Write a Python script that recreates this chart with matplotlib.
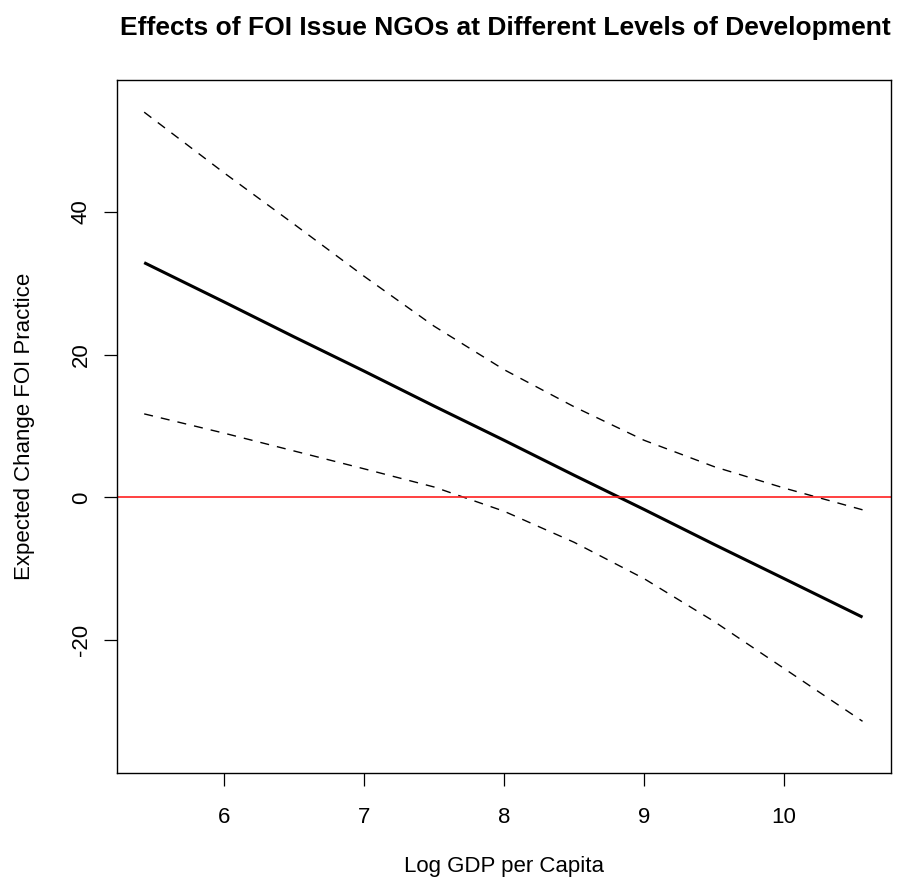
import matplotlib.pyplot as plt

plt.rcParams['font.family'] = ['Liberation Sans', 'DejaVu Sans']

gdp = [5.43, 6.0, 6.5, 7.0, 7.5, 8.0, 8.5, 9.0, 9.5, 10.0, 10.56]
effect = [32.9, 27.4, 22.5, 17.7, 12.8, 8.0, 3.1, -1.7, -6.6, -11.4, -16.8]
upper = [54.0, 45.5, 38.3, 31.0, 24.0, 17.9, 12.7, 8.0, 4.3, 1.3, -1.75]
lower = [11.7, 9.0, 6.5, 4.0, 1.45, -1.95, -6.3, -11.4, -17.4, -24.0, -31.4]

xticks = [6, 7, 8, 9, 10]
yticks = [-20, 0, 20, 40]

fig = plt.figure(figsize=(8.98, 8.80), dpi=100)
ax = fig.add_axes([0.130, 0.122, 0.862, 0.787])

ax.plot(gdp, effect, color='black', lw=2.2, solid_capstyle='butt')
ax.plot(gdp, upper, color='black', lw=1.0, linestyle=(0, (6.5, 5.8)))
ax.plot(gdp, lower, color='black', lw=1.0, linestyle=(0, (6.5, 5.8)))
ax.axhline(0, color='#ff2020', lw=1.2)

ax.set_xlim(5.234, 10.762)
ax.set_ylim(-38.6, 58.5)
ax.set_xticks(xticks)
ax.set_yticks(yticks)
ax.set_xticklabels([str(t) for t in xticks])
ax.set_yticklabels([str(t) for t in yticks], rotation=90, va='center')
ax.tick_params(axis='both', length=9.4, width=0.9, labelsize=16, direction='out')
ax.tick_params(axis='x', pad=15)
ax.tick_params(axis='y', pad=8.6)
for s in ax.spines.values():
    s.set_linewidth(1.0)

fig.text(0.5624, 0.9605, 'Effects of FOI Issue NGOs at Different Levels of Development',
         ha='center', va='baseline', fontsize=19, fontweight='bold')
fig.text(0.561, 0.009, 'Log GDP per Capita', ha='center', va='baseline', fontsize=16)
fig.text(0.027, 0.515, 'Expected Change FOI Practice', ha='center', va='center',
         rotation=90, fontsize=16)

fig.savefig('out.png', dpi=100)
